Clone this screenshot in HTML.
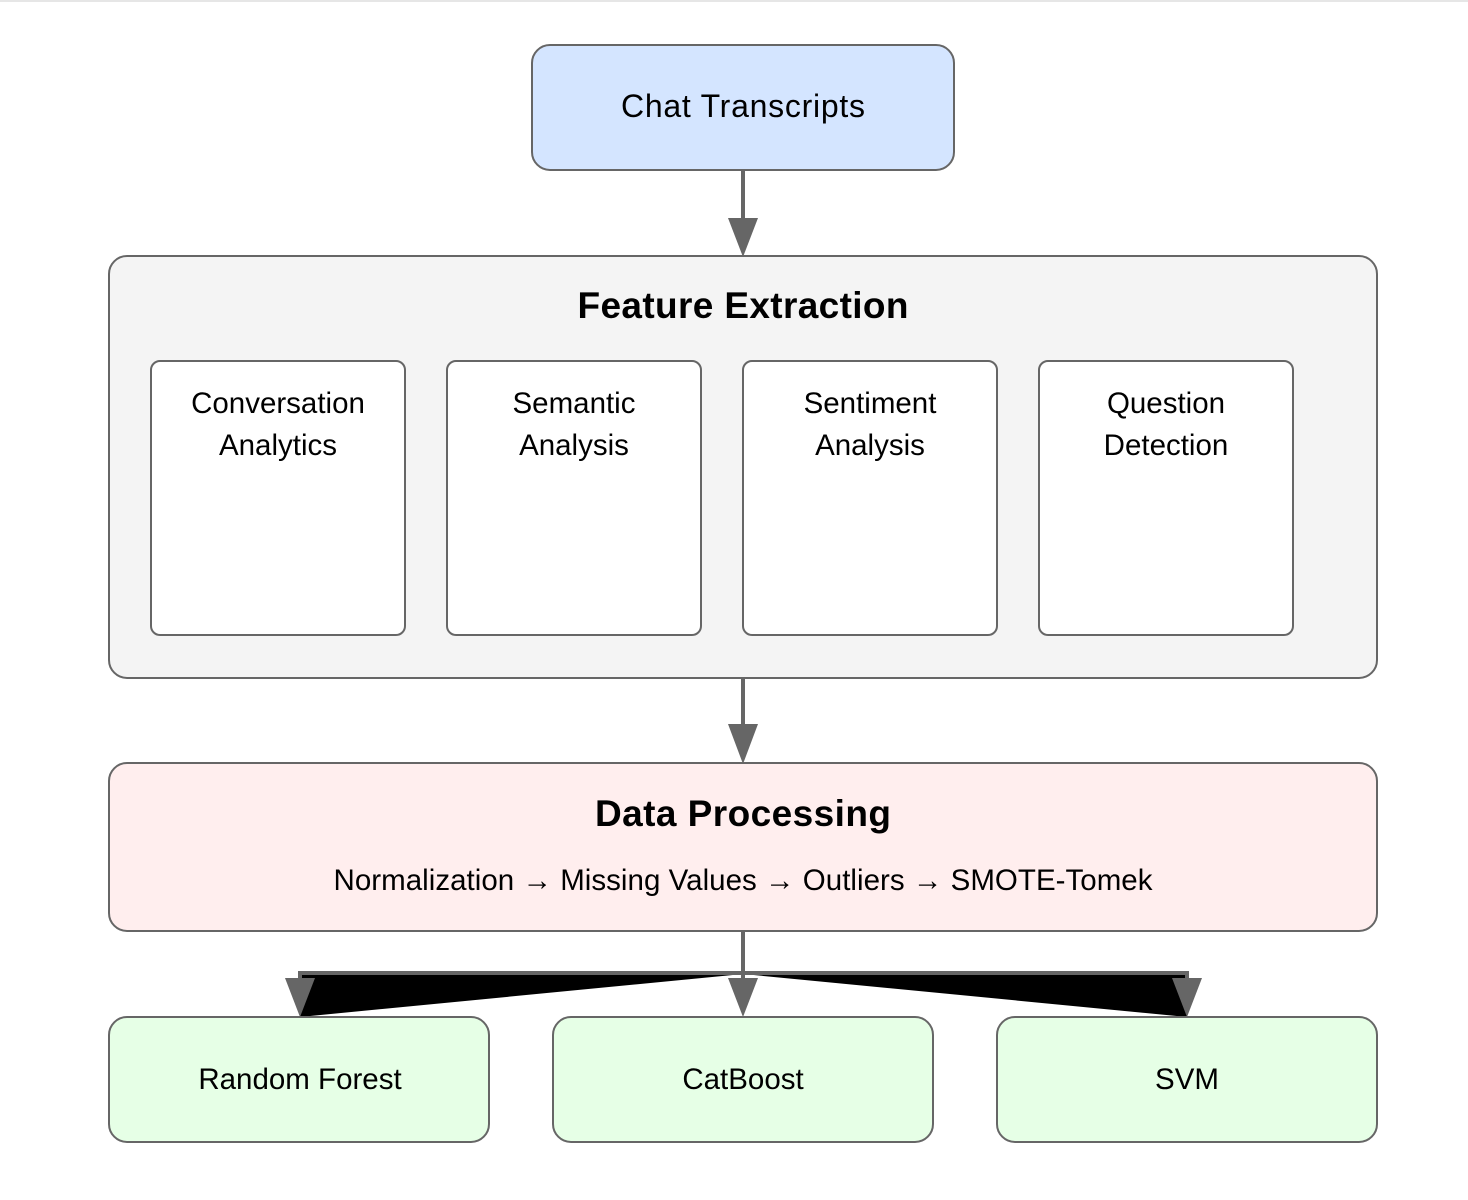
<!DOCTYPE html>
<html><head><style>
body{margin:0;background:#fff;}
svg{display:block;font-family:"Liberation Sans",Arial,sans-serif;}
</style></head><body>
<svg width="1468" height="1200" viewBox="0 0 1468 1200">
<line x1="0" y1="1" x2="1468" y2="1" stroke="#e6e6e6" stroke-width="2"/>
<rect x="532" y="45" width="422" height="125" rx="18" fill="#d4e5ff" stroke="#666" stroke-width="2"/>
<text x="743" y="117" font-size="32" text-anchor="middle" textLength="244" fill="#000">Chat Transcripts</text>
<line x1="743" y1="171" x2="743" y2="222" stroke="#666" stroke-width="4"/>
<polygon points="728,218 758,218 743,257" fill="#666"/>
<rect x="109" y="256" width="1268" height="422" rx="18" fill="#f4f4f4" stroke="#666" stroke-width="2"/>
<text x="743" y="318" font-size="37" font-weight="bold" text-anchor="middle" textLength="331">Feature Extraction</text>
<g font-size="29.5" text-anchor="middle">
<rect x="151" y="361" width="254" height="274" rx="9" fill="#fff" stroke="#666" stroke-width="2"/>
<text x="278" y="413">Conversation</text><text x="278" y="455">Analytics</text>
<rect x="447" y="361" width="254" height="274" rx="9" fill="#fff" stroke="#666" stroke-width="2"/>
<text x="574" y="413">Semantic</text><text x="574" y="455">Analysis</text>
<rect x="743" y="361" width="254" height="274" rx="9" fill="#fff" stroke="#666" stroke-width="2"/>
<text x="870" y="413">Sentiment</text><text x="870" y="455">Analysis</text>
<rect x="1039" y="361" width="254" height="274" rx="9" fill="#fff" stroke="#666" stroke-width="2"/>
<text x="1166" y="413">Question</text><text x="1166" y="455">Detection</text>
</g>
<line x1="743" y1="679" x2="743" y2="728" stroke="#666" stroke-width="4"/>
<polygon points="728,724 758,724 743,764" fill="#666"/>
<rect x="109" y="763" width="1268" height="168" rx="18" fill="#ffeeee" stroke="#666" stroke-width="2"/>
<text x="743" y="826" font-size="37" font-weight="bold" text-anchor="middle" textLength="296">Data Processing</text>
<text x="743" y="890" font-size="29.5" text-anchor="middle" textLength="819">Normalization → Missing Values → Outliers → SMOTE-Tomek</text>
<polygon points="300,974 743,974 300,1017" fill="#000"/>
<polygon points="743,974 1187,974 1187,1017" fill="#000"/>
<line x1="743" y1="932" x2="743" y2="982" stroke="#666" stroke-width="4"/>
<polyline points="300,982 300,973 1187,973 1187,982" fill="none" stroke="#666" stroke-width="4"/>
<polygon points="285,978 315,978 300,1017" fill="#666"/>
<polygon points="728,978 758,978 743,1017" fill="#666"/>
<polygon points="1172,978 1202,978 1187,1017" fill="#666"/>
<g font-size="29.5" text-anchor="middle">
<rect x="109" y="1017" width="380" height="125" rx="18" fill="#e6ffe6" stroke="#666" stroke-width="2"/>
<text x="300" y="1089">Random Forest</text>
<rect x="553" y="1017" width="380" height="125" rx="18" fill="#e6ffe6" stroke="#666" stroke-width="2"/>
<text x="743" y="1089">CatBoost</text>
<rect x="997" y="1017" width="380" height="125" rx="18" fill="#e6ffe6" stroke="#666" stroke-width="2"/>
<text x="1187" y="1089">SVM</text>
</g>
</svg>
</body></html>
